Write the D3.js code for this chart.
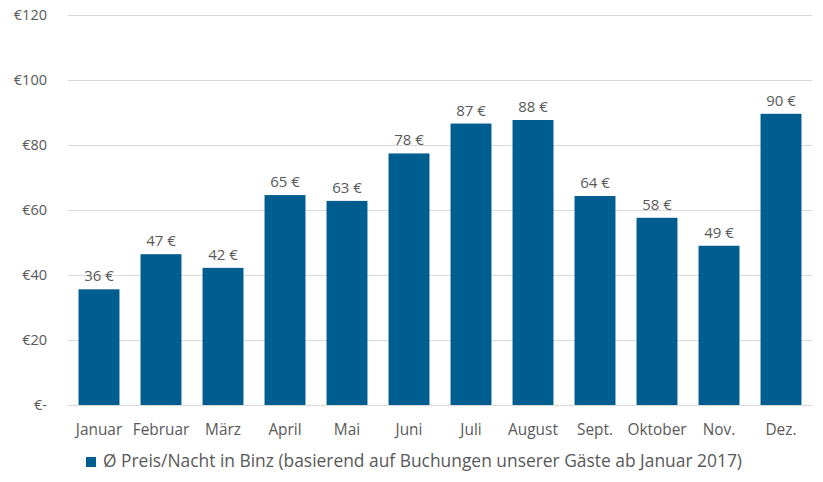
<!DOCTYPE html>
<html><head><meta charset="utf-8">
<script src="https://cdn.jsdelivr.net/npm/d3@7"></script>
<style>body{margin:0;background:#fff}text{font-family:"Open Sans",sans-serif;fill:#595959}</style>
</head><body><svg id="c" width="823" height="482"></svg>
<script>
const categories = ["Januar","Februar","März","April","Mai","Juni","Juli","August","Sept.","Oktober","Nov.","Dez."];
const values = [35.6,46.4,42.2,64.6,62.8,77.4,86.6,87.7,64.3,57.6,49.0,89.6];
const labels = ["36 €","47 €","42 €","65 €","63 €","78 €","87 €","88 €","64 €","58 €","49 €","90 €"];
const yTicks = [0,20,40,60,80,100,120];
const yTickLabels = ["€-","€20","€40","€60","€80","€100","€120"];
const seriesName = "Ø Preis/Nacht in Binz (basierend auf Buchungen unserer Gäste ab Januar 2017)";

const svg = d3.select("#c");
const pL = 68, pR = 812, pT = 15, pB = 405;
const x = d3.scaleBand().domain(categories).range([pL, pR]).paddingInner(0.34).paddingOuter(0.17);
const y = d3.scaleLinear().domain([0,120]).range([pB, pT]);
const color = "#005D8F";

svg.append("g").selectAll("line").data(yTicks).join("line")
  .attr("x1", pL).attr("x2", pR)
  .attr("y1", d => y(d)+0.5).attr("y2", d => y(d)+0.5)
  .attr("stroke", "#d9d9d9").attr("stroke-width", 1);

svg.append("g").selectAll("text").data(yTicks).join("text")
  .attr("x", 47).attr("y", d => y(d)).attr("dy", "0.36em")
  .attr("text-anchor", "end").attr("font-size", 14.5)
  .text((d,i) => yTickLabels[i]);

svg.append("g").selectAll("rect").data(values).join("rect")
  .attr("x", (d,i) => x(categories[i])).attr("width", x.bandwidth())
  .attr("y", d => y(d)).attr("height", d => pB - y(d))
  .attr("fill", color);

svg.append("g").selectAll("text").data(values).join("text")
  .attr("x", (d,i) => x(categories[i]) + x.bandwidth()/2)
  .attr("y", d => y(d) - 8)
  .attr("text-anchor", "middle").attr("font-size", 15)
  .text((d,i) => labels[i]);

svg.append("g").selectAll("text").data(categories).join("text")
  .attr("x", d => x(d) + x.bandwidth()/2).attr("y", 435)
  .attr("text-anchor", "middle").attr("font-size", 15.4)
  .text(d => d);

const lg = svg.append("g");
lg.append("rect").attr("x", 86).attr("y", 457).attr("width", 10).attr("height", 10).attr("fill", color);
lg.append("text").attr("x", 103).attr("y", 467).attr("font-size", 17.4).text(seriesName);
</script></body></html>
